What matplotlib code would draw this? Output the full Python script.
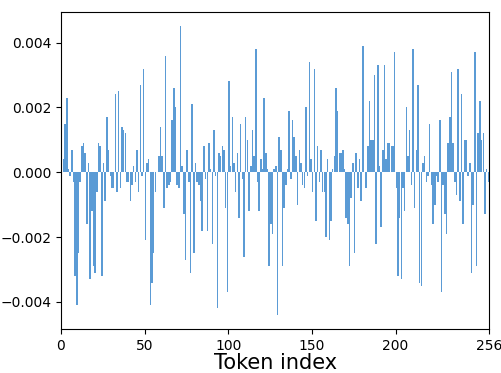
import numpy as np
import matplotlib
matplotlib.use("Agg")
import matplotlib.pyplot as plt

# bar heights, 256 tokens
vals_000 = [0.0003, 0.0004, 0.0015, 0.0023, 0.0001, -0.0001, 0.0007, -0.0003, -0.0032, -0.0041, -0.0025,
            -0.0003, 0.0008, 0.0009, 0.0006, -0.0016, 0.0003, -0.0033, -0.0012, -0.0029, -0.0031, -0.0006]
vals_022 = [0.0009, 0.0008, -0.0032, 0.0003, -0.0009, 0.0017, 0.0007, -0.0001, -0.0005, -0.0005, 0.0024,
            -0.0006, 0.0025, -0.0005, 0.0014, 0.0013, 0.0012, -0.0003, -0.0003, -0.0009, -0.0004, 0.0002]
vals_044 = [-0.0003, 0.0007, -0.0006, 0.0027, -0.0001, 0.0032, -0.0021, 0.0003, 0.0004, -0.0041, -0.0034,
            -0.0025, -0.0006, 0.0000, 0.0005, 0.0014, 0.0005, -0.0011, 0.0036, -0.0005, -0.0004]
vals_065 = [-0.0003, 0.0016, 0.0026, 0.0020, -0.0004, -0.0005, 0.0045, 0.0002, -0.0013, -0.0027, 0.0007,
            -0.0003, -0.0031, 0.0021, -0.0025, 0.0003, -0.0003, -0.0004, -0.0009, -0.0018, 0.0008, -0.0002]
vals_087 = [-0.0018, 0.0009, 0.0001, -0.0022, 0.0013, -0.0001, -0.0042, 0.0006, 0.0005, 0.0008, 0.0007,
            -0.0011, -0.0037, 0.0028, 0.0002, 0.0017, 0.0003, -0.0006, 0.0006, -0.0014, 0.0015]
vals_108 = [-0.0002, -0.0026, 0.0017, 0.0010, -0.0012, 0.0002, 0.0013, 0.0005, 0.0038, -0.0003, -0.0012,
            0.0004, 0.0001, 0.0023, 0.0006, 0.0001, -0.0029, -0.0016, -0.0019, 0.0001, 0.0002, -0.0044]
vals_130 = [0.0011, 0.0007, -0.0029, -0.0011, -0.0004, 0.0001, 0.0019, -0.0002, 0.0016, 0.0011, 0.0005,
            -0.0010, 0.0007, 0.0003, -0.0004, -0.0005, 0.0020, -0.0001, 0.0034, 0.0004, -0.0006, 0.0032]
vals_152 = [-0.0015, 0.0008, -0.0003, 0.0007, -0.0006, -0.0006, -0.0020, 0.0004, -0.0021, -0.0015, 0.0001,
            0.0005, 0.0026, 0.0019, 0.0006, 0.0006, 0.0007, 0.0001, -0.0014, -0.0016, -0.0029]
vals_173 = [-0.0008, 0.0003, -0.0025, 0.0006, -0.0005, 0.0004, -0.0009, 0.0039, 0.0000, -0.0005, 0.0008,
            0.0022, 0.0010, 0.0010, 0.0030, -0.0022, 0.0033, 0.0002, -0.0017, 0.0007, 0.0033]
vals_194 = [0.0004, 0.0009, 0.0009, 0.0008, 0.0008, 0.0037, -0.0005, -0.0032, -0.0014, -0.0033, -0.0005,
            -0.0012, 0.0020, 0.0005, 0.0013, -0.0004, 0.0038, -0.0011, 0.0007, 0.0027, -0.0034, -0.0035]
vals_216 = [0.0003, 0.0005, -0.0003, -0.0001, 0.0015, -0.0004, -0.0016, -0.0010, -0.0001, -0.0003, 0.0016,
            -0.0037, -0.0004, -0.0013, -0.0019, 0.0009, 0.0017, 0.0031, 0.0009, -0.0003, -0.0007, 0.0032]
vals_238 = [-0.0009, 0.0024, -0.0016, 0.0010, 0.0010, -0.0001, 0.0003, -0.0031, -0.0010, 0.0037, -0.0029,
            0.0012, 0.0022, 0.0010, 0.0012, -0.0013, 0.0001, -0.0003]

values = (vals_000 + vals_022 + vals_044 + vals_065 + vals_087 + vals_108 +
          vals_130 + vals_152 + vals_173 + vals_194 + vals_216 + vals_238)
token_idx = np.arange(len(values))

x_ticks = [0, 50, 100, 150, 200, 256]

fig = plt.figure(figsize=(5.02, 3.73), dpi=100)
ax = fig.add_axes([0.1215, 0.117, 0.853, 0.851])

ax.bar(token_idx, values, width=0.9, align='edge', color='#5b9bd5')

ax.set_xlim(0, 256)
ax.set_xticks(x_ticks)
ax.set_xlabel("Token index", fontsize=15, labelpad=0)

fig.savefig("out.png", dpi=100)
